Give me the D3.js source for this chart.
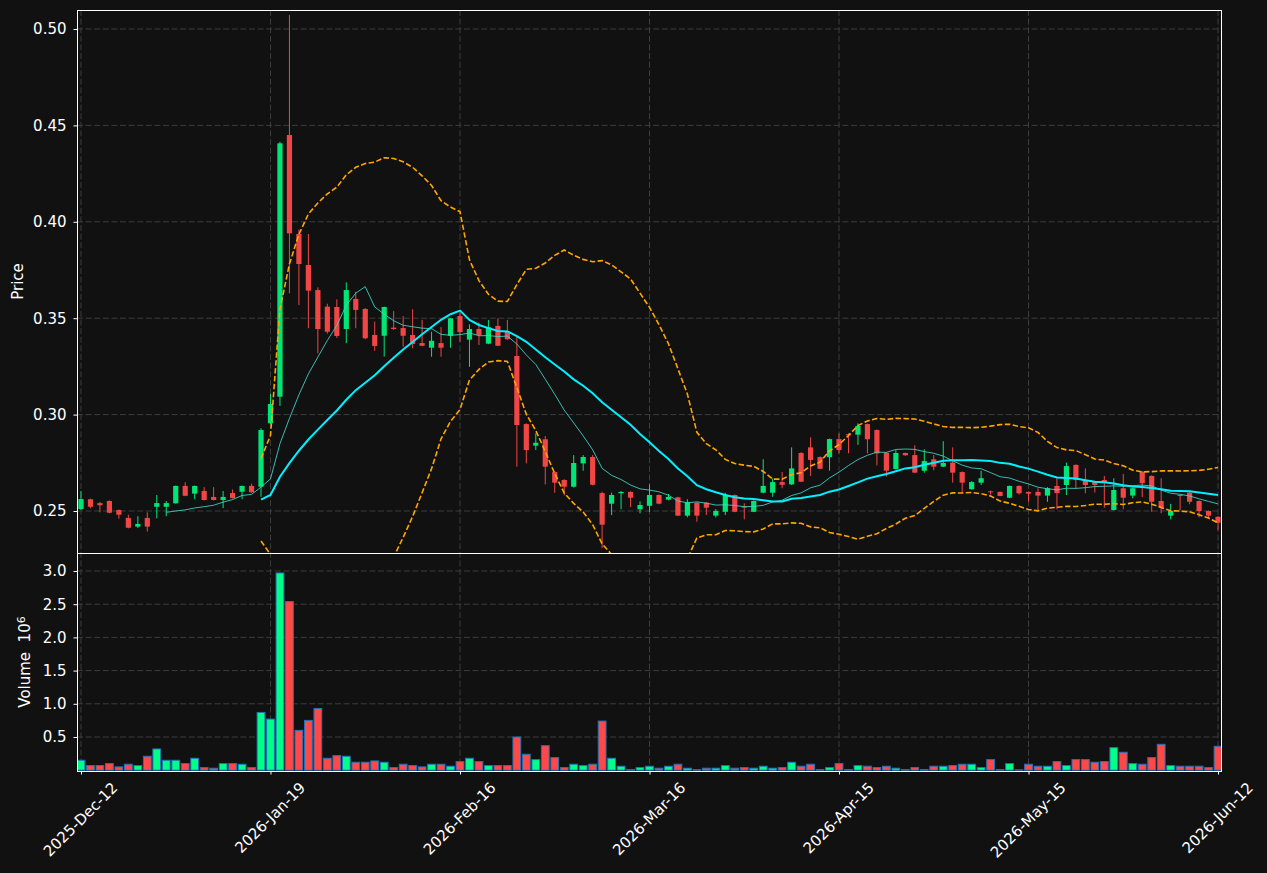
<!DOCTYPE html>
<html>
<head>
<meta charset="utf-8">
<script src="https://cdn.jsdelivr.net/npm/d3@7"></script>
<style>
  html, body { margin: 0; padding: 0; background: #111111; }
  svg { display: block; }
  text { font-family: "DejaVu Sans", sans-serif; }
</style>
</head>
<body>
<div id="chart"></div>
<script>
// daily OHLC (121 sessions)
const opens = [
  .2510, .2561, .2541, .2552, .2505, .2464, .2419, .2464, .2522, .2522,
  .2540, .2630, .2590, .2604, .2573, .2557, .2593, .2600, .2630, .2626,
  .2955, .3093, .4450, .3937, .3776, .3646, .3560, .3558, .3444, .3600,
  .3548, .3413, .3409, .3451, .3449, .3413, .3371, .3347, .3371, .3409,
  .3511, .3389, .3444, .3368, .3460, .3428, .3304, .2951, .2839, .2872,
  .2702, .2661, .2626, .2747, .2780, .2593, .2538, .2592, .2599, .2509,
  .2527, .2583, .2559, .2571, .2476, .2543, .2543, .2476, .2496, .2583,
  .2523, .2496, .2595, .2595, .2650, .2638, .2801, .2830, .2780, .2779,
  .2873, .2898, .2896, .2951, .2920, .2802, .2718, .2801, .2790, .2709,
  .2768, .2730, .2751, .2702, .2613, .2647, .2602, .2599, .2569, .2630,
  .2599, .2599, .2580, .2630, .2635, .2739, .2661, .2652, .2661, .2505,
  .2618, .2580, .2704, .2682, .2552, .2476, .2583, .2595, .2552, .2500,
  .2470
];
const highs = [
  .2604, .2564, .2547, .2555, .2508, .2481, .2473, .2493, .2583, .2552,
  .2632, .2649, .2632, .2624, .2624, .2604, .2612, .2632, .2642, .2929,
  .3107, .4415, .5073, .3960, .3937, .3660, .3575, .3598, .3686, .3637,
  .3552, .3482, .3560, .3537, .3511, .3546, .3491, .3430, .3454, .3501,
  .3530, .3468, .3477, .3491, .3499, .3491, .3404, .2955, .2903, .2889,
  .2705, .2665, .2790, .2790, .2790, .2600, .2595, .2603, .2602, .2550,
  .2638, .2586, .2588, .2574, .2561, .2546, .2546, .2510, .2594, .2586,
  .2540, .2555, .2768, .2669, .2702, .2830, .2805, .2882, .2783, .2876,
  .2903, .2903, .2955, .2954, .2923, .2805, .2816, .2803, .2841, .2820,
  .2790, .2862, .2830, .2705, .2655, .2709, .2606, .2601, .2632, .2633,
  .2601, .2618, .2624, .2675, .2751, .2742, .2721, .2655, .2682, .2670,
  .2692, .2622, .2707, .2685, .2670, .2537, .2585, .2598, .2555, .2502,
  .2473
];
const lows = [
  .2505, .2514, .2493, .2488, .2460, .2410, .2412, .2393, .2462, .2473,
  .2538, .2577, .2561, .2555, .2555, .2515, .2565, .2561, .2595, .2574,
  .2950, .3045, .3629, .3568, .3448, .3318, .3420, .3398, .3370, .3448,
  .3391, .3331, .3301, .3440, .3352, .3344, .3355, .3300, .3300, .3347,
  .3378, .3248, .3361, .3365, .3355, .3388, .2730, .2747, .2816, .2638,
  .2595, .2581, .2622, .2709, .2633, .2307, .2479, .2509, .2520, .2488,
  .2496, .2535, .2555, .2474, .2467, .2445, .2479, .2467, .2479, .2494,
  .2457, .2494, .2592, .2574, .2618, .2635, .2650, .2682, .2717, .2709,
  .2799, .2799, .2843, .2799, .2736, .2678, .2715, .2787, .2697, .2699,
  .2712, .2728, .2647, .2595, .2610, .2635, .2585, .2576, .2566, .2585,
  .2548, .2496, .2548, .2509, .2583, .2618, .2592, .2596, .2517, .2503,
  .2509, .2566, .2572, .2496, .2488, .2457, .2505, .2535, .2467, .2462,
  .2401
];
const closes = [
  .2562, .2522, .2530, .2491, .2481, .2413, .2433, .2419, .2541, .2541,
  .2630, .2579, .2630, .2557, .2557, .2573, .2567, .2630, .2597, .2920,
  .3055, .4407, .3940, .3781, .3643, .3444, .3430, .3408, .3646, .3543,
  .3396, .3356, .3558, .3444, .3409, .3366, .3357, .3383, .3347, .3499,
  .3428, .3444, .3413, .3453, .3357, .3391, .2946, .2816, .2854, .2730,
  .2647, .2626, .2749, .2780, .2636, .2429, .2583, .2599, .2569, .2531,
  .2583, .2538, .2573, .2476, .2545, .2476, .2517, .2500, .2583, .2496,
  .2520, .2552, .2630, .2650, .2636, .2721, .2652, .2765, .2719, .2873,
  .2816, .2896, .2941, .2872, .2799, .2709, .2801, .2789, .2699, .2759,
  .2730, .2749, .2699, .2647, .2650, .2670, .2598, .2578, .2630, .2592,
  .2590, .2580, .2618, .2593, .2733, .2661, .2635, .2635, .2647, .2609,
  .2569, .2618, .2644, .2548, .2517, .2500, .2579, .2548, .2500, .2476,
  .2439
];
// volume in millions
const volumes = [
  .15, .07, .07, .10, .05, .09, .07, .21, .32, .15,
  .15, .10, .18, .04, .03, .10, .10, .09, .04, .87,
  .77, 2.97, 2.54, .60, .75, .93, .18, .22, .21, .12,
  .12, .14, .12, .04, .09, .07, .05, .09, .09, .06,
  .13, .18, .13, .07, .07, .07, .50, .24, .16, .37,
  .19, .04, .09, .07, .09, .74, .18, .06, .01, .04,
  .06, .03, .06, .09, .03, .01, .03, .03, .07, .03,
  .04, .03, .06, .03, .04, .12, .06, .09, .01, .04,
  .10, .01, .07, .06, .04, .06, .03, .01, .04, .01,
  .06, .06, .07, .09, .09, .04, .16, .01, .10, .005,
  .09, .06, .06, .13, .07, .16, .16, .12, .13, .34,
  .27, .10, .09, .19, .39, .07, .06, .06, .06, .04,
  .36
];
const tickIndex = [0, 20, 40, 60, 80, 100, 120];
const tickLabels = ['2025-Dec-12', '2026-Jan-19', '2026-Feb-16', '2026-Mar-16',
                    '2026-Apr-15', '2026-May-15', '2026-Jun-12'];
const priceTicks = [0.25, 0.30, 0.35, 0.40, 0.45, 0.50];
const volTicks = [0.5, 1.0, 1.5, 2.0, 2.5, 3.0];

const W = 1267, H = 873;
const L = 77, R = 1222, pTop = 10, pBot = 553, vBot = 771;
const upColor = '#00e676', downColor = '#f04646';
const volUp = '#00ff88', volDown = '#ff4848';

function rolling(arr, n, fn) {
    return arr.map((_, i) => i < n - 1 ? null : fn(arr.slice(i - n + 1, i + 1)));
}
const ma10 = rolling(closes, 10, d3.mean);
const ma20 = rolling(closes, 20, d3.mean);
const sd20 = rolling(closes, 20, d3.deviation);
const bbUp = ma20.map((m, i) => m == null ? null : m + 2 * sd20[i]);
const bbLo = ma20.map((m, i) => m == null ? null : m - 2 * sd20[i]);

const svg = d3.select('#chart').append('svg')
    .attr('width', W).attr('height', H);
svg.append('rect').attr('width', W).attr('height', H).attr('fill', '#111111');

const x = d3.scaleLinear().domain([-0.42, 120.42]).range([L, R]);
const y = d3.scaleLinear().domain([0.22822, 0.50985]).range([pBot, pTop]);
const yv = d3.scaleLinear().domain([-0.012, 3.271]).range([vBot, pBot]);

const defs = svg.append('defs');
defs.append('clipPath').attr('id', 'clipP').append('rect')
    .attr('x', L).attr('y', pTop).attr('width', R - L).attr('height', pBot - pTop);
defs.append('clipPath').attr('id', 'clipV').append('rect')
    .attr('x', L).attr('y', pBot).attr('width', R - L).attr('height', vBot - pBot);

const gridColor = '#3d3d3d';
// grid
const grid = svg.append('g');
priceTicks.forEach(t => grid.append('line')
    .attr('x1', L).attr('x2', R).attr('y1', y(t)).attr('y2', y(t)));
volTicks.forEach(t => grid.append('line')
    .attr('x1', L).attr('x2', R).attr('y1', yv(t)).attr('y2', yv(t)));
tickIndex.forEach(t => grid.append('line')
    .attr('x1', x(t)).attr('x2', x(t)).attr('y1', pTop).attr('y2', vBot));
grid.selectAll('line').attr('stroke', gridColor).attr('stroke-width', 1)
    .attr('stroke-dasharray', '6,2.6');

const idx = d3.range(closes.length);

// candles
const pg = svg.append('g').attr('clip-path', 'url(#clipP)');
const col = i => closes[i] >= opens[i] ? upColor : downColor;
pg.selectAll('line.wick').data(idx).enter().append('line')
    .attr('class', 'wick')
    .attr('x1', i => x(i)).attr('x2', i => x(i))
    .attr('y1', i => y(highs[i])).attr('y2', i => y(lows[i]))
    .attr('stroke', col).attr('stroke-width', 1);
const bw = 5.2;
pg.selectAll('rect.body').data(idx).enter().append('rect')
    .attr('class', 'body')
    .attr('x', i => x(i) - bw / 2)
    .attr('width', bw)
    .attr('y', i => y(Math.max(opens[i], closes[i])))
    .attr('height', i => Math.max(1, Math.abs(y(opens[i]) - y(closes[i]))))
    .attr('fill', col);

// moving averages and bands
const line = arr => d3.line().defined(i => arr[i] != null)
    .x(i => x(i)).y(i => y(arr[i]))(idx);
pg.append('path').attr('d', line(ma10)).attr('fill', 'none')
    .attr('stroke', '#40d8cc').attr('stroke-width', 1).attr('stroke-opacity', 0.85);
pg.append('path').attr('d', line(ma20)).attr('fill', 'none')
    .attr('stroke', '#00f0ff').attr('stroke-width', 2);
[bbUp, bbLo].forEach(b => pg.append('path').attr('d', line(b)).attr('fill', 'none')
    .attr('stroke', '#ffa500').attr('stroke-width', 1.6)
    .attr('stroke-dasharray', '5.5,2.4'));

// volume
const vg = svg.append('g').attr('clip-path', 'url(#clipV)');
const vw = 7.8;
vg.selectAll('rect.vol').data(idx).enter().append('rect')
    .attr('class', 'vol')
    .attr('x', i => x(i) - vw / 2)
    .attr('width', vw)
    .attr('y', i => yv(volumes[i]))
    .attr('height', i => yv(0) - yv(volumes[i]))
    .attr('fill', i => closes[i] >= opens[i] ? volUp : volDown)
    .attr('stroke', '#2172b8').attr('stroke-width', 1);

// axes
const fontSize = 15;
function styleAxis(g) {
    g.select('.domain').remove();
    g.selectAll('.tick line').attr('stroke', '#ffffff');
    g.selectAll('.tick text').attr('fill', '#ffffff')
        .style('font-size', fontSize + 'px').style('font-family', '"DejaVu Sans", sans-serif');
}
svg.append('g').attr('transform', `translate(${L},0)`)
    .call(d3.axisLeft(y).tickValues(priceTicks).tickFormat(d3.format('.2f'))
        .tickSize(3.5).tickPadding(7))
    .call(styleAxis);
svg.append('g').attr('transform', `translate(${L},0)`)
    .call(d3.axisLeft(yv).tickValues(volTicks).tickFormat(d3.format('.1f'))
        .tickSize(3.5).tickPadding(7))
    .call(styleAxis);
const xa = svg.append('g').attr('transform', `translate(0,${vBot})`)
    .call(d3.axisBottom(x).tickValues(tickIndex)
        .tickFormat((d, i) => tickLabels[i]).tickSize(3.5))
    .call(styleAxis);
xa.selectAll('.tick text').each(function() {
    const t = d3.select(this);
    const w = this.getComputedTextLength();
    const h = fontSize * 1.16;
    const half = (w + h) / Math.SQRT2 / 2;
    t.attr('text-anchor', 'middle').attr('dy', '0.35em')
        .attr('x', 0).attr('y', 0)
        .attr('transform', `translate(-1,${8 + half}) rotate(-45)`);
});

// spines
const sp = svg.append('g').attr('stroke', '#ffffff').attr('stroke-width', 1).attr('fill', 'none')
    .attr('shape-rendering', 'crispEdges');
sp.append('rect').attr('x', L + 0.5).attr('y', pTop + 0.5)
    .attr('width', R - L - 1).attr('height', vBot - pTop);
sp.append('line').attr('x1', L).attr('x2', R).attr('y1', pBot + 0.5).attr('y2', pBot + 0.5);

// labels
svg.append('text').attr('transform', `translate(18,${(pTop + pBot) / 2}) rotate(-90)`)
    .attr('text-anchor', 'middle').attr('dy', '0.35em')
    .attr('fill', '#ffffff').style('font-size', fontSize + 'px').text('Price');
const vl = svg.append('text').attr('transform', `translate(25,${(pBot + vBot) / 2}) rotate(-90)`)
    .attr('text-anchor', 'middle').attr('dy', '0.35em')
    .attr('fill', '#ffffff').style('font-size', fontSize + 'px');
vl.append('tspan').text('Volume\u00a0\u00a010');
vl.append('tspan').attr('dy', '-0.45em').style('font-size', '11px').text('6');
</script>
</body>
</html>
